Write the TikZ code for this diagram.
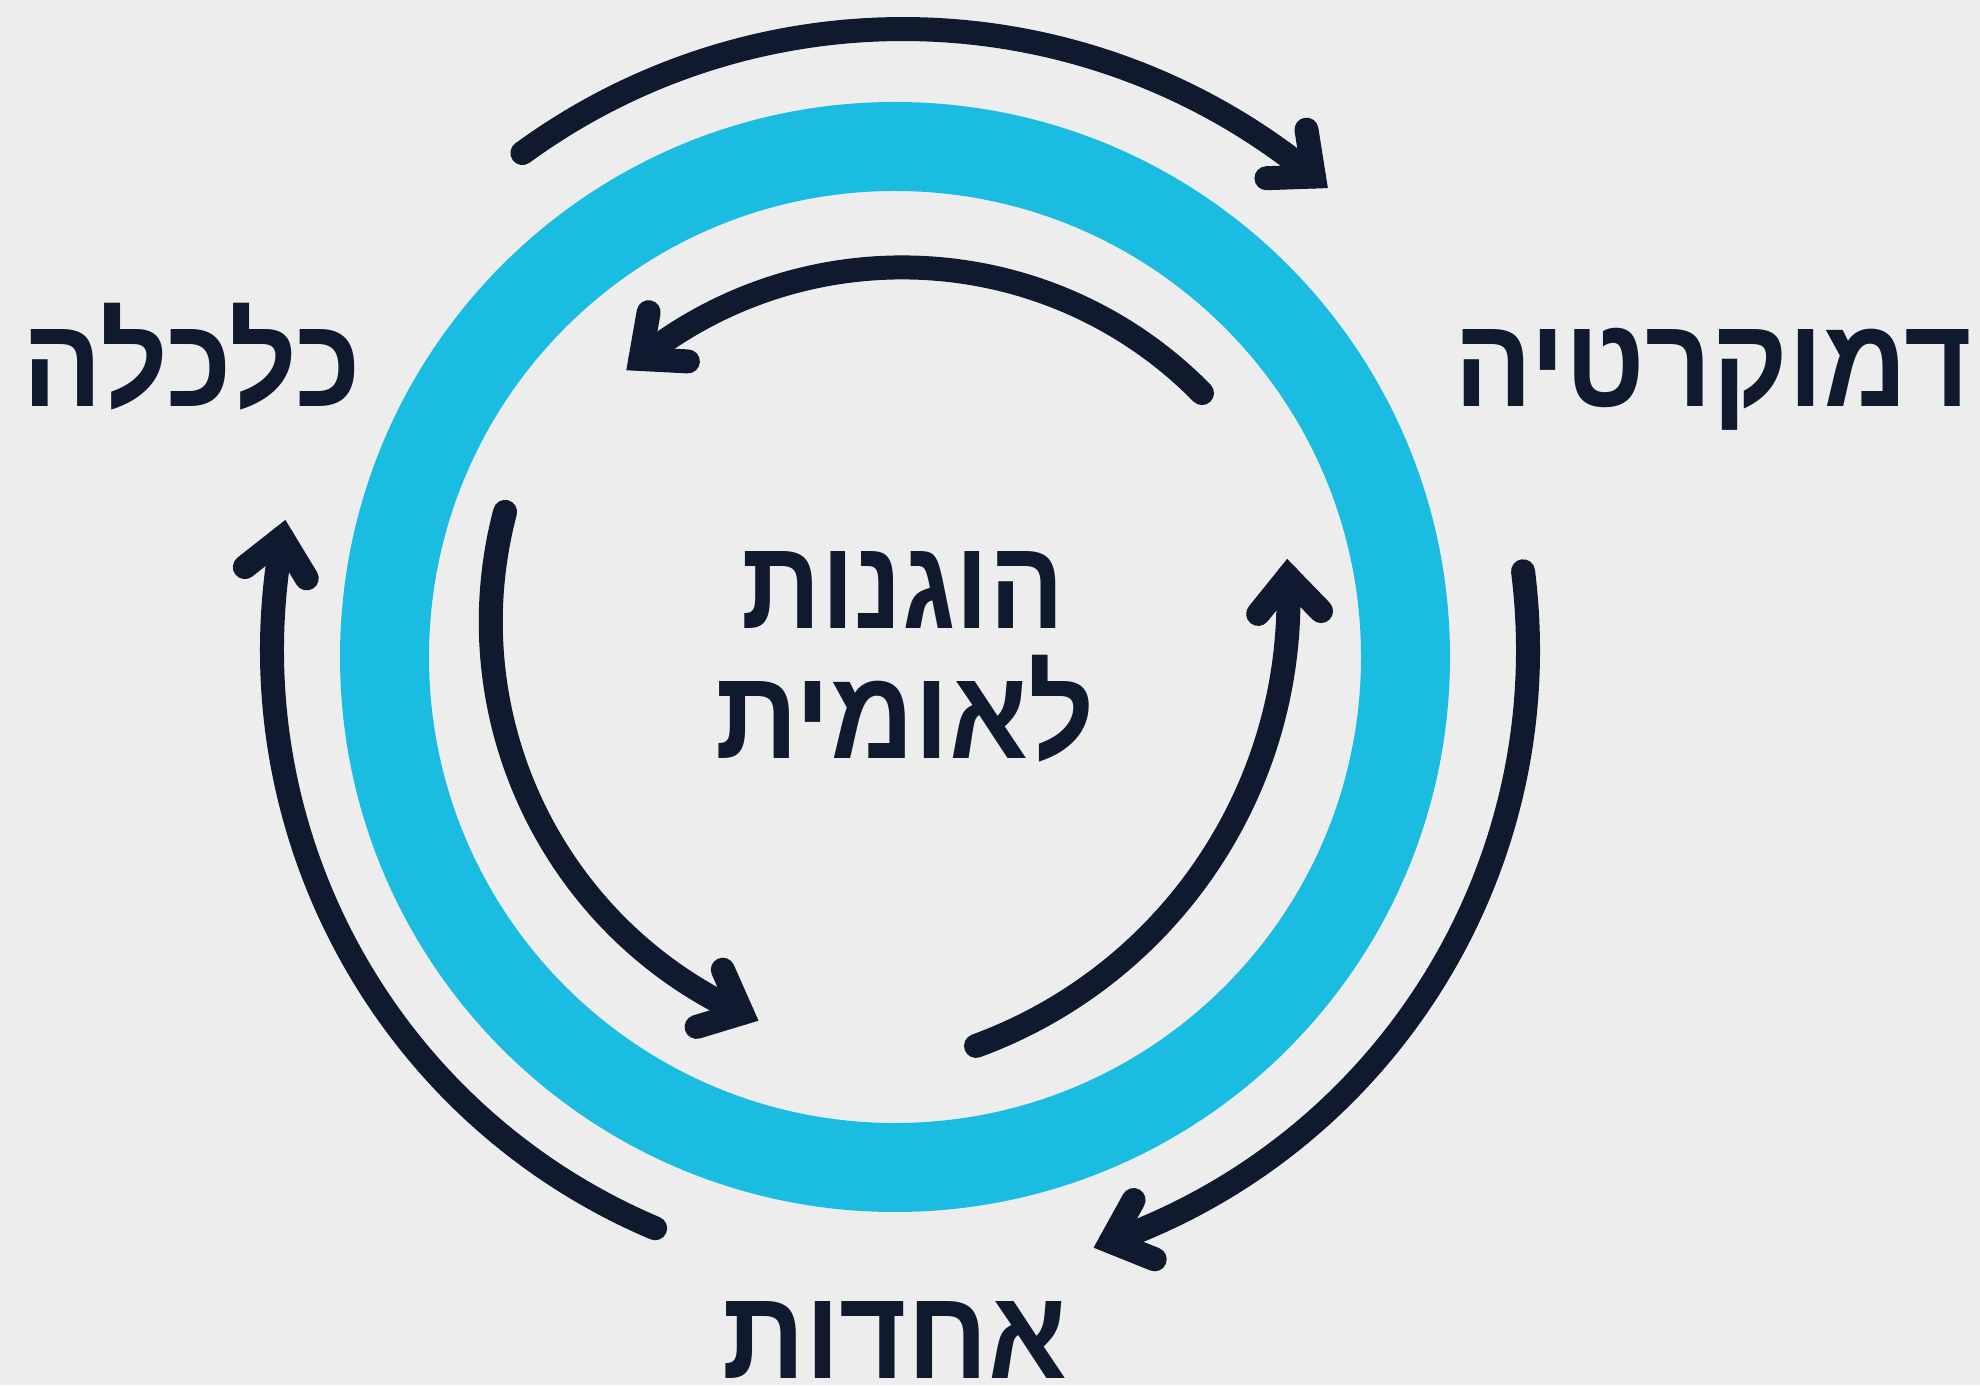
\documentclass[tikz,border=0pt]{standalone}
\usepackage{fontspec}
\usepackage{graphicx}
\TeXXeTstate=1
\newfontfamily\hebfont[Script=Hebrew]{Liberation Sans Bold}
\definecolor{ringblue}{HTML}{1BBCE1}
\definecolor{navy}{HTML}{0F1A2F}
\definecolor{bgcol}{HTML}{EDEDEE}
\newlength\hebH
\newcommand\hebword[2]{%
  \settoheight\hebH{\hebfont\fontsize{100}{120}\selectfont ה}%
  \pgfmathsetmacro\hebV{77/\hebH}%
  \resizebox{#1pt}{\hebV\height}{\hebfont\fontsize{100}{120}\selectfont\beginR #2\endR}}
\tikzset{
  arcline/.style={draw=navy, line width=24pt, line cap=round},
  headline/.style={draw=navy, line width=24pt, line cap=round, line join=miter, miter limit=10},
  label/.style={anchor=base, inner sep=0pt, text=navy}
}
\newcommand\ahead[2]{\draw[headline] ([shift={(#2+138.5:47.5pt)}]#1) -- (#1) -- ([shift={(#2-138.5:47.5pt)}]#1);}
\begin{document}
\begin{tikzpicture}[x=1pt,y=1pt]
\useasboundingbox (0,0) rectangle (1980,1385);
\fill[bgcol] (0,0) rectangle (1980,1385);
\coordinate (Rc) at (895,728);
\coordinate (Oo) at (900,735);
\coordinate (Ot) at (903,710);
\coordinate (Ct) at (902.3,697.4);
\coordinate (Cl) at (921.2,763.2);
\coordinate (Cr) at (811.9,786.5);
% ring
\draw[ringblue, line width=89pt] (Rc) circle[radius=510.5pt];
% outer arcs (clockwise)
\draw[arcline] ([shift={(126.1:646pt)}]Ot) arc[start angle=126.1, end angle=50.5, radius=646pt] coordinate (tA);
\ahead{tA}{-39.5}
\draw[arcline] ([shift={(7.2:628pt)}]Oo) arc[start angle=7.2, end angle=-70.4, radius=628pt] coordinate (tB);
\ahead{tB}{-160.4}
\draw[arcline] ([shift={(247.05:628pt)}]Oo) arc[start angle=247.05, end angle=169.7, radius=628pt] coordinate (tC);
\ahead{tC}{79.7}
% inner arcs (counter-clockwise)
\draw[arcline] ([shift={(44.5:420.2pt)}]Ct) arc[start angle=44.5, end angle=128.55, radius=420.2pt] coordinate (tD);
\ahead{tD}{218.55}
\draw[arcline] ([shift={(165.2:430.4pt)}]Cl) arc[start angle=165.2, end angle=245.4, radius=430.4pt] coordinate (tE);
\ahead{tE}{335.4}
\draw[arcline] ([shift={(-69.86:476.6pt)}]Cr) arc[start angle=-69.86, end angle=2.59, radius=476.6pt] coordinate (tF);
\ahead{tF}{92.59}
% labels
\node[label] (dem) at (1713,978.3) {\hebword{517}{דמוקרטיה}};
\node[label] (kal) at (192,978.5) {\hebword{338}{כלכלה}};
\node[label] (hog) at (903,756) {\hebword{323}{הוגנות}};
\node[label] (leu) at (905,626) {\hebword{380}{לאומית}};
\node[label] (ach) at (894.5,7) {\hebword{345}{אחדות}};
\end{tikzpicture}
\end{document}
